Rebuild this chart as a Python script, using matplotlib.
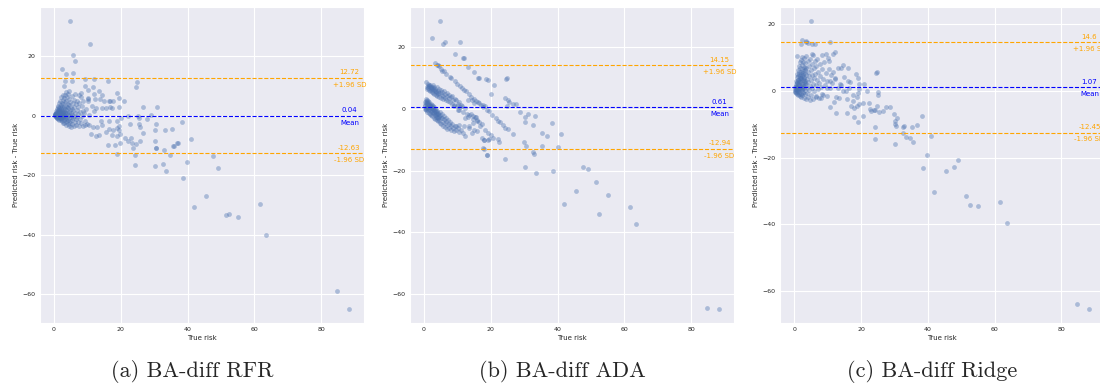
import numpy as np
import matplotlib
matplotlib.use("Agg")
import matplotlib.pyplot as plt
import seaborn as sns

# Bland-Altman values: (true risk, predicted - true)
rfr_points = [
    # dense cluster near zero
    (0.2, 0.1), (0.3, 0.5), (0.4, -0.2), (0.5, 1.0), (0.5, 0.3), (0.6, -0.4), (0.7, 1.6), (0.7, 0.6),
    (0.8, -0.6), (0.9, 2.2), (0.9, 0.2), (1.0, 1.2), (1.0, -0.8), (1.1, 2.8), (1.1, 0.5), (1.2, -0.3),
    (1.2, 1.9), (1.3, 3.4), (1.3, -1.1), (1.4, 0.9), (1.4, 2.5), (1.5, 0.0), (1.5, 4.2), (1.6, 1.5),
    (1.6, -1.3), (1.7, 3.0), (1.7, 0.4), (1.8, 2.0), (1.8, -0.7), (1.9, 5.0), (1.9, 1.1), (2.0, -1.6),
    (2.0, 3.6), (2.1, 0.2), (2.1, 2.6), (2.2, -1.0), (2.2, 6.2), (2.3, 1.7), (2.3, 4.4), (2.4, -1.9),
    (2.4, 0.7), (2.5, 3.1), (2.5, -0.4), (2.6, 5.4), (2.6, 2.2), (2.7, -2.3), (2.7, 1.2), (2.8, 7.0),
    (2.8, 3.9), (2.9, 0.1), (2.9, -1.4), (3.0, 2.8), (3.0, 5.9), (3.1, -2.6), (3.1, 1.6), (3.2, 4.6),
    (3.2, 0.5), (3.3, -0.9), (3.3, 6.8), (3.4, 2.3), (3.5, -2.0), (3.5, 3.4), (3.6, 0.9), (3.6, 8.1),
    (3.7, -3.0), (3.7, 5.1), (3.8, 1.9), (3.8, -0.3), (3.9, 3.0), (4.0, -1.7), (4.0, 6.3), (4.1, 0.4),
    (4.1, 4.1), (4.2, -2.8), (4.2, 2.5), (4.3, 7.4), (4.4, -0.8), (4.4, 1.3), (4.5, -3.4), (4.5, 3.6),
    (4.6, 5.6), (4.7, -1.9), (4.7, 0.2), (4.8, 2.0), (4.9, -2.6), (4.9, 4.7), (5.0, -0.5), (5.1, 1.0),
    (5.1, -3.8), (5.2, 3.0), (5.3, 6.6), (5.3, -1.4), (5.4, 0.3), (5.5, 2.4), (5.5, -2.9), (5.6, 4.2),
    (5.7, -0.9), (5.8, 1.5), (5.9, -3.4), (6.0, 5.2), (6.0, -0.1), (6.1, 2.9), (6.2, -2.2), (6.3, 0.8),
    (6.4, 7.3), (6.5, -1.2), (6.6, 3.8), (6.7, -3.0), (6.8, 1.9), (6.9, -0.4), (7.0, 5.0), (7.1, -2.1),
    (7.2, 2.8), (7.3, 0.6), (7.5, -3.3), (7.6, 4.3), (7.7, -1.0), (7.8, 1.4), (8.0, 6.2), (8.1, -2.5),
    (8.3, 3.3), (8.4, -0.2), (8.6, -3.6), (8.8, 4.8), (9.0, 0.9), (9.2, -1.8), (9.5, 2.2), (9.8, -2.8),
    (10.1, 6.0), (10.5, 0.3), (0.3, 0.2), (0.6, 0.8), (0.8, 0.1), (1.0, 0.4), (1.2, 0.9), (1.4, -0.5),
    (1.6, 0.6), (1.8, 1.3), (2.0, 0.0), (2.2, 0.9), (2.4, 1.4), (2.6, -0.9), (2.8, 0.4), (3.0, -0.4),
    (3.2, 1.2), (3.4, 0.0), (1.1, 1.6), (0.4, 0.7), (0.9, -0.3), (1.5, 1.8), (2.1, -0.6), (2.7, 0.8),
    (3.6, -1.1), (4.0, 0.9), (4.3, -1.3), (1.3, 0.2), (1.9, 0.5), (2.3, -0.2), (0.7, -0.1), (0.2, 0.4),
    # spread
    (4.9, 31.7), (10.7, 24.2), (5.6, 20.5), (6.4, 18.5), (2.4, 15.8), (5.8, 14.4), (3.6, 14.1),
    (5.4, 11.7), (3.3, 11.6), (9.4, 12.3), (11.9, 12.2), (16.1, 11.6), (24.9, 11.2), (24.5, 9.7),
    (2.9, 10.0), (4.5, 8.2), (9.3, 10.0), (11.7, 9.5), (10.2, 8.5), (13.5, 8.4), (8.0, 7.6), (7.6, 7.0),
    (12.0, 7.4), (14.5, 6.9), (18.7, 7.6), (19.3, 6.1), (20.9, 5.0), (16.6, 5.0), (14.9, 5.0),
    (13.7, 5.6), (12.3, 5.6), (10.2, 4.8), (10.2, 5.7), (11.5, 3.2), (12.5, 2.6), (14.3, 2.6),
    (15.7, 2.7), (16.9, 3.1), (16.7, 5.0), (17.7, 5.0), (19.4, 3.1), (17.3, 2.5), (12.1, 1.5),
    (8.8, 1.5), (26.7, 3.0), (30.9, 3.0), (28.9, 0.3), (27.7, -1.0), (25.0, 0.0), (25.3, -0.8),
    (22.2, 0.0), (19.9, -0.6), (18.9, -1.7), (19.4, -3.4), (16.6, -1.8), (14.2, -1.9), (14.4, -3.1),
    (12.9, -3.8), (11.8, -3.9), (10.4, -3.1), (9.2, -3.2), (16.5, -4.5), (17.5, -4.8), (18.9, -4.0),
    (15.6, -5.4), (13.5, -6.4), (11.0, -6.3), (12.5, -6.9), (19.3, -4.8), (22.6, -2.7), (25.5, -2.7),
    (25.7, -3.7), (30.5, -2.7), (30.2, -4.7), (33.2, -4.9), (35.4, -4.4), (38.4, -2.0),
    (26.7, -5.7), (17.3, -6.5), (18.7, -6.9), (19.7, -6.3), (21.1, -7.4), (22.2, -8.6), (22.9, -7.6),
    (25.6, -8.5), (24.5, -9.5), (23.2, -9.2), (19.7, -9.3), (18.1, -9.8), (16.3, -9.9), (30.1, -8.4),
    (30.6, -10.9), (33.0, -11.4), (37.0, -9.2), (35.8, -10.1), (41.1, -7.8), (36.9, -9.0),
    (35.6, -10.2), (23.5, -11.0), (30.4, -11.0), (34.8, -13.1), (24.3, -13.2), (18.7, -12.7),
    (47.7, -13.4), (49.0, -17.4), (39.9, -15.7), (32.7, -16.3), (30.3, -16.9), (24.2, -16.6),
    (33.6, -18.6), (38.6, -20.9), (45.5, -27.1), (41.8, -30.5), (51.4, -33.3), (52.5, -32.9),
    (55.0, -34.0), (61.7, -29.6), (63.6, -40.1), (84.6, -58.8), (88.4, -64.8),
]

ada_points = [
    # band of low predictions
    (0.2, 0.1), (0.3, 1.2), (0.4, 2.4), (0.5, 3.3), (0.5, 0.0), (0.6, 1.8), (0.7, -0.5), (0.8, 2.9),
    (0.9, 0.6), (1.0, 1.9), (1.0, -0.9), (1.1, 2.7), (1.2, 0.3), (1.3, 1.5), (1.4, -1.2), (1.5, 2.2),
    (1.6, 0.1), (1.7, -1.6), (1.8, 1.4), (1.9, -0.4), (2.0, 1.6), (2.1, -2.0), (2.2, 0.8), (2.3, -0.9),
    (2.4, 1.2), (2.5, -2.4), (2.6, 0.0), (2.7, -1.3), (2.8, 1.0), (2.9, -2.8), (3.0, -0.4), (3.1, 0.6),
    (3.2, -1.9), (3.3, -3.2), (3.4, 0.1), (3.5, -1.0), (3.6, -2.6), (3.7, -0.3), (3.8, -3.6),
    (3.9, -1.5), (4.0, -0.6), (4.1, -2.9), (4.2, -4.0), (4.3, -1.2), (4.4, -2.3), (4.6, -3.6),
    (4.7, -0.9), (4.8, -4.5), (4.9, -1.9), (5.0, -3.0), (5.2, -4.8), (5.3, -1.6), (5.4, -2.8),
    (5.6, -4.1), (5.8, -5.5), (5.9, -2.2), (6.0, -3.4), (6.2, -4.7), (6.4, -5.9), (6.5, -2.9),
    (6.7, -4.0), (6.9, -5.2), (7.0, -6.5), (7.2, -3.6), (7.4, -5.0), (7.6, -6.2), (7.8, -4.2),
    (8.0, -5.6), (8.2, -6.8), (8.5, -5.0), (8.7, -6.3), (9.0, -7.2), (9.3, -5.6), (9.7, -6.9),
    (10.2, -6.1), (10.6, -7.4), (11.0, -7.0), (0.4, 0.9), (0.6, 0.3), (0.8, 1.3), (1.1, 0.7),
    (1.3, -0.2), (1.5, 0.9), (1.7, 0.5), (1.9, 0.9), (2.1, 0.3), (2.3, 0.2), (2.5, -0.5), (2.7, 0.3),
    (2.9, -0.9), (3.1, -1.2), (3.3, -0.6), (3.5, -1.7), (3.7, -2.0), (3.9, -2.6), (4.1, -1.8),
    (4.5, -2.6), (1.2, 1.9), (0.9, 2.4), (0.7, 2.5), (2.0, -0.7), (1.4, 1.3),
    (11.8, -7.7), (12.4, -8.9), (12.1, -5.7), (13.5, -6.2), (15.0, -6.8), (14.5, -7.9), (10.6, -5.2),
    (9.6, -5.5), (16.0, -7.3), (17.3, -9.3), (18.0, -10.0), (19.3, -9.8), (17.5, -12.8),
    (18.7, -15.1),
    # second band
    (0.6, 8.7), (0.8, 7.2), (1.0, 6.6), (1.2, 8.0), (1.3, 6.9), (1.5, 7.3), (1.6, 6.2), (1.8, 7.6),
    (1.9, 5.8), (2.0, 6.8), (2.2, 7.2), (2.3, 5.6), (2.5, 6.4), (2.6, 7.9), (2.7, 5.2), (2.9, 6.1),
    (3.0, 7.0), (3.1, 4.8), (3.3, 5.8), (3.4, 6.6), (3.6, 4.4), (3.7, 5.4), (3.8, 7.1), (4.0, 4.2),
    (4.1, 5.9), (4.3, 4.8), (4.4, 6.3), (4.6, 3.8), (4.8, 5.1), (5.0, 6.0), (5.1, 3.5), (5.3, 4.6),
    (5.5, 5.4), (5.7, 3.2), (5.8, 4.3), (6.0, 5.7), (6.2, 3.6), (6.4, 4.8), (6.6, 2.9), (6.8, 4.1),
    (7.0, 5.0), (7.2, 2.6), (7.4, 3.6), (7.6, 4.4), (7.9, 2.3), (8.1, 3.7), (8.3, 1.6), (8.5, 4.2),
    (8.8, 2.8), (9.0, 1.2), (9.3, 3.2), (9.6, 2.9), (9.9, 0.8), (10.2, 1.6), (10.5, -0.3),
    (11.1, 1.3), (11.6, -0.9), (12.2, 0.2), (12.8, -1.6), (13.3, -2.7), (14.0, -1.8), (14.6, -3.4),
    (15.3, -2.6), (16.0, -3.6), (16.7, -5.7), (17.4, -4.8), (18.3, -6.8), (19.2, -7.7), (20.0, -8.4),
    (20.7, -9.3), (22.0, -9.8), (22.5, -10.6), (19.2, -10.0), (18.0, -10.0),
    (2.1, 6.0), (2.8, 6.7), (3.5, 5.9), (4.2, 5.3), (1.4, 7.7), (1.1, 7.4), (2.4, 7.0),
    # third streak
    (3.3, 14.9), (3.8, 14.4), (4.1, 14.1), (4.5, 13.8), (5.2, 13.1), (5.5, 12.4), (6.0, 12.3),
    (6.6, 11.4), (7.7, 10.3), (8.0, 10.0), (9.4, 8.9), (10.0, 8.1), (10.8, 7.4), (11.5, 6.7),
    (12.0, 6.1), (12.6, 5.8), (13.4, 4.9), (14.2, 4.0), (14.9, 3.2), (15.6, 2.6), (16.3, 2.2),
    (17.1, 1.3), (17.6, 0.6), (18.7, -0.2), (19.3, -0.8), (20.4, -2.0), (21.4, -3.0), (22.2, -3.8),
    (22.6, -4.2), (23.5, -5.1), (24.3, -6.1), (25.0, -6.6), (26.7, -8.1),
    (9.1, 0.8), (10.1, -0.3), (10.8, 0.5), (11.4, 1.0), (10.6, 2.4), (13.1, 2.9), (14.4, 2.9),
    (15.1, 2.0), (16.6, 2.0), (17.5, 1.3), (18.2, 0.8), (12.3, -3.0), (13.4, -1.9), (14.6, -2.2),
    (15.6, -2.7), (15.9, -3.8), (16.5, -4.4), (14.6, -4.6), (13.6, -5.5),
    # spread
    (4.9, 28.4), (2.4, 23.1), (5.6, 20.9), (6.4, 21.6), (10.7, 21.8), (9.4, 17.7), (11.6, 16.4),
    (12.0, 16.4), (13.3, 13.5), (14.9, 12.1), (16.1, 10.1), (16.6, 9.9), (18.5, 9.7), (19.0, 9.4),
    (20.9, 7.8), (19.9, 4.7), (24.5, 9.6), (24.9, 10.0), (24.3, 3.4), (25.0, 2.9), (25.3, 2.4),
    (24.9, 0.8), (26.7, 1.5), (27.5, 1.6), (28.7, -1.1), (30.2, -2.5), (31.0, -1.7), (33.1, -2.3),
    (30.2, -4.4), (32.6, -5.2), (38.3, -4.7), (35.2, -7.7), (36.9, -8.7), (41.1, -8.1), (29.9, -10.6),
    (30.5, -11.9), (35.2, -11.9), (40.0, -12.5), (32.7, -14.1), (32.8, -14.5), (18.0, -12.9),
    (18.7, -15.1), (24.2, -16.2), (30.3, -19.0), (33.6, -20.7), (38.6, -20.3), (47.7, -18.9),
    (49.0, -19.4), (51.4, -23.8), (45.5, -26.7), (55.0, -28.0), (41.8, -30.7), (61.7, -31.7),
    (52.5, -34.1), (63.6, -37.3), (84.6, -64.5), (88.4, -64.8),
]

ridge_points = [
    # dense cluster near zero
    (0.1, 0.0), (0.2, 0.5), (0.3, -0.2), (0.3, 1.2), (0.4, 2.0), (0.5, 0.3), (0.5, 3.0), (0.6, -0.5),
    (0.6, 1.6), (0.7, 4.1), (0.7, 0.8), (0.8, 2.5), (0.8, -0.8), (0.9, 5.2), (0.9, 1.3), (1.0, 3.4),
    (1.0, 0.1), (1.1, 6.4), (1.1, 2.1), (1.2, -1.1), (1.2, 4.6), (1.3, 1.0), (1.3, 7.4), (1.4, 3.0),
    (1.4, -0.4), (1.5, 5.6), (1.5, 1.8), (1.6, 8.6), (1.6, -1.4), (1.7, 4.0), (1.7, 0.6), (1.8, 6.8),
    (1.8, 2.6), (1.9, -0.9), (1.9, 9.4), (2.0, 3.6), (2.0, 1.2), (2.1, 5.0), (2.1, -1.7), (2.2, 7.8),
    (2.2, 2.2), (2.3, 0.2), (2.3, 4.4), (2.4, 10.2), (2.4, -1.2), (2.5, 6.0), (2.5, 1.6), (2.6, 3.2),
    (2.6, 8.8), (2.7, -0.2), (2.7, 5.3), (2.8, 2.6), (2.8, -2.0), (2.9, 7.2), (2.9, 0.9), (3.0, 4.0),
    (3.0, 9.8), (3.1, 1.9), (3.1, -1.0), (3.2, 6.2), (3.2, 3.1), (3.3, 0.3), (3.3, 8.3), (3.4, -2.3),
    (3.4, 4.8), (3.5, 2.0), (3.6, 10.6), (3.6, 6.9), (3.7, -0.6), (3.8, 3.6), (3.9, 1.0), (4.0, 5.7),
    (4.0, 8.9), (4.1, -1.7), (4.2, 2.6), (4.3, 7.4), (4.4, 0.2), (4.5, 4.5), (4.6, -2.6), (4.7, 9.6),
    (4.8, 1.6), (4.9, 6.2), (5.0, 3.2), (5.1, -1.2), (5.2, 8.2), (5.3, 0.8), (5.4, 4.9), (5.5, 10.9),
    (5.6, 2.1), (5.7, -2.3), (5.8, 6.8), (5.9, 3.8), (6.0, 0.0), (6.2, 8.9), (6.3, 5.2), (6.4, 1.9),
    (6.5, -1.4), (6.6, 7.4), (6.7, 3.4), (6.9, 9.6), (7.0, 0.6), (7.1, 5.8), (7.3, 2.5), (7.5, -2.0),
    (7.6, 8.0), (7.8, 4.4), (8.0, 1.2), (8.2, 6.6), (8.4, -0.8), (8.6, 3.6), (8.9, 8.7), (9.1, 1.8),
    (9.4, 5.4), (9.7, -1.4), (9.9, 3.0), (10.3, 6.6), (10.6, 0.8), (11.0, 4.8), (11.4, 2.3),
    (0.4, 0.6), (0.6, 1.1), (0.8, 0.4), (1.0, 1.9), (1.1, 0.7), (1.3, 2.5), (1.5, 0.3), (1.7, 2.9),
    (1.9, 1.6), (2.1, 3.9), (2.3, 1.0), (2.5, 4.7), (2.7, 2.0), (2.9, 3.3), (3.1, 5.4), (3.3, 2.4),
    (1.2, 3.2), (1.6, 4.6), (2.0, 5.6), (2.4, 6.5), (2.8, 4.2), (3.2, 7.0), (0.9, 2.8), (1.4, 5.0),
    (1.8, 3.8), (2.2, 0.6), (2.6, -0.7), (0.5, -0.3), (1.0, -0.4), (1.5, -0.9),
    # spread
    (4.9, 20.9), (2.4, 15.4), (3.4, 14.9), (3.6, 14.6), (6.1, 14.2), (5.4, 14.2), (10.7, 14.8),
    (1.9, 14.2), (4.1, 14.3), (12.1, 11.8), (11.6, 11.1), (9.4, 11.0), (5.4, 11.1), (8.2, 10.8),
    (10.1, 9.8), (10.4, 9.0), (0.8, 10.6), (13.1, 7.0), (13.9, 7.0), (11.5, 5.8), (12.3, 4.0),
    (12.2, 3.7), (14.9, 4.3), (14.7, 7.7), (16.1, 6.8), (16.2, 3.1), (16.8, 2.8), (18.5, 5.1),
    (19.1, 3.8), (19.3, 2.0), (20.8, 2.1), (21.8, 0.1), (19.5, 0.5), (19.2, -0.7), (17.5, -1.2),
    (18.7, -1.7), (15.4, 0.1), (14.5, 0.1), (24.5, 5.5), (24.9, 5.7), (25.1, -0.2), (25.1, -1.2),
    (22.5, -3.5), (22.7, -5.4), (23.1, -6.1), (23.8, -5.8), (24.8, -4.5), (24.3, -5.7), (25.5, -6.2),
    (26.7, -6.0), (27.5, -4.7), (28.7, -4.7), (29.9, -6.9), (30.2, -9.0), (30.2, -9.9), (30.5, -10.4),
    (30.7, -8.2), (32.6, -10.9), (33.0, -10.5), (32.5, -12.7), (33.5, -13.7), (34.8, -14.2),
    (35.6, -15.4), (35.2, -10.7), (36.9, -10.2), (38.3, -7.5), (41.1, -13.4), (24.2, -10.8),
    (24.2, -14.5), (30.3, -16.0), (39.9, -19.1), (49.0, -20.7), (47.7, -22.9), (38.6, -23.1),
    (45.5, -24.1), (41.8, -30.4), (51.4, -31.5), (52.5, -34.3), (55.0, -34.4), (61.7, -33.2),
    (63.6, -39.7), (84.6, -63.9), (88.4, -65.3),
    (12.6, -1.7), (13.4, -2.2), (10.8, -4.7), (12.6, -6.5), (15.8, -6.7), (17.0, -4.5), (18.0, -5.0),
    (18.7, -4.5), (19.5, -4.0), (20.5, -3.5), (17.5, -3.0), (20.5, -7.5), (19.2, -9.2), (17.8, -7.9),
    (15.8, -2.5), (8.1, -2.2), (8.6, -1.2), (6.6, -1.7), (13.1, 0.8), (9.8, 0.9), (10.6, 2.9),
    (14.0, 1.8), (16.5, 0.8), (11.8, -3.2), (13.6, 2.1),
]

captions = ["(a) BA-diff RFR", "(b) BA-diff ADA", "(c) BA-diff Ridge"]
mean_diff = [0.04, 0.61, 1.07]
upper_loa = [12.72, 14.15, 14.6]
lower_loa = [-12.63, -12.94, -12.45]

sns.set_style("darkgrid")
plt.rcParams["font.family"] = ["DejaVu Sans"]

fig = plt.figure(figsize=(11, 3.85), dpi=100)

lefts = [40, 410, 780]
panels = [rfr_points, ada_points, ridge_points]

for i, pts in enumerate(panels):
    ax = fig.add_axes([lefts[i] / 1100, 62 / 385, 324 / 1100, 316 / 385])
    xy = np.array(pts)
    ax.scatter(xy[:, 0], xy[:, 1], s=12, color="#4c72b0", alpha=0.4, linewidths=0)

    # mean and limits of agreement
    trans = ax.get_yaxis_transform()
    for val, col, lab in [(upper_loa[i], "orange", "+1.96 SD"),
                          (mean_diff[i], "blue", "Mean"),
                          (lower_loa[i], "orange", "-1.96 SD")]:
        ax.axhline(val, color=col, linestyle="--", linewidth=0.8)
        ax.annotate(str(val), xy=(0.955, val), xycoords=trans, xytext=(0, 3.9),
                    textcoords="offset points", ha="center", va="center",
                    color=col, fontsize=5)
        ax.annotate(lab, xy=(0.955, val), xycoords=trans, xytext=(0, -5),
                    textcoords="offset points", ha="center", va="center",
                    color=col, fontsize=5)

    ax.set_xlabel("True risk", fontsize=5, labelpad=2)
    ax.set_ylabel("Predicted risk - True risk", fontsize=5, labelpad=3)
    ax.tick_params(labelsize=4.5, pad=3, length=0)
    ax.grid(True, color="white", linewidth=0.8)

    fig.text((lefts[i] + 152) / 1100, 0.036, captions[i], ha="center", va="center",
             fontsize=16, family="cmr10")

fig.savefig("out.png", dpi=100)
